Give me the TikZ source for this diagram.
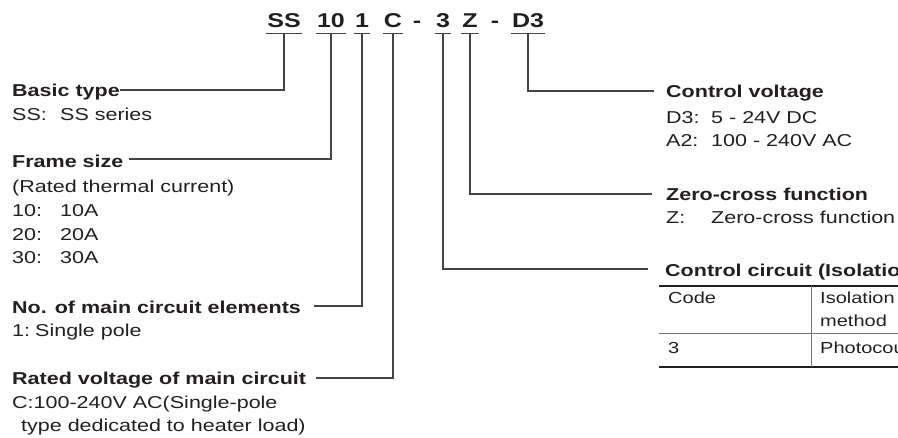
\documentclass[tikz,border=0pt]{standalone}
\usepackage{fontspec}
\setmainfont[FakeStretch=1.25]{Liberation Sans}
\usetikzlibrary{calc}
\definecolor{ink}{HTML}{231F20}
\definecolor{wiregray}{HTML}{444444}
\newcommand\bodyfont{\fontsize{17.2}{23.7}\selectfont}
\newcommand\codefont{\fontsize{20}{24}\selectfont\bfseries}
\newcommand\tabfont{\fontsize{16}{20}\selectfont}
\newcommand\keyL[2]{\makebox[48pt][l]{#1}#2}
\newcommand\keyR[2]{\makebox[45pt][l]{#1}#2}
\tikzset{
  code/.style={font=\codefont, text=ink, anchor=base, inner xsep=1pt, inner ysep=0pt, text depth=6.5pt},
  sepmark/.style={font=\codefont, text=ink, anchor=base, inner sep=0pt},
  head/.style={font=\bodyfont\bfseries, text=ink, anchor=base west, inner sep=0pt},
  body/.style={font=\bodyfont, text=ink, anchor=base west, inner sep=0pt},
  cell/.style={font=\tabfont, text=ink, anchor=base west, inner sep=0pt},
  wire/.style={draw=wiregray, line width=1.1pt},
  thickrule/.style={draw=ink, line width=2pt},
  thinrule/.style={draw=black!55, line width=1pt},
}
\begin{document}
\begin{tikzpicture}[x=1pt,y=-1pt]
	\useasboundingbox (0,0) rectangle (898,437);
	\clip (0,0) rectangle (898,437);
	
	% model code
	\node[code] (ss) at (284,27) {SS};
	\node[code] (fr) at (331,27) {10};
	\node[code] (el) at (362,27) {1};
	\node[code] (rv) at (393,27) {C};
	\node[sepmark] (sepA) at (417,27) {-};
	\node[code] (ci) at (443,27) {3};
	\node[code] (zc) at (470,27) {Z};
	\node[sepmark] (sepB) at (495,27) {-};
	\node[code] (cv) at (528,27) {D3};
	\foreach \n in {ss,fr,el,rv,ci,zc,cv}
		\draw[wire] (\n.south west) -- (\n.south east);
	
	% left side
	\node[head] (basic) at (12,96) {Basic type};
	\node[body] (basicA) at (12,120) {\keyL{SS:}{SS series}};
	
	\node[head] (frame) at (12,167) {Frame size};
	\node[body] (frameA) at (12,192) {(Rated thermal current)};
	\node[body] (frameB) at (12,216) {\keyL{10:}{10A}};
	\node[body] (frameC) at (12,240) {\keyL{20:}{20A}};
	\node[body] (frameD) at (12,263) {\keyL{30:}{30A}};
	
	\node[head] (elem) at (12,313) {No. of main circuit elements};
	\node[body] (elemA) at (12,336) {\makebox[23pt][l]{1:}Single pole};
	
	\node[head] (rated) at (12,384) {Rated voltage of main circuit};
	\node[body] (ratedA) at (12,408) {C:100-240V AC(Single-pole};
	\node[body] (ratedB) at (21,431) {type dedicated to heater load)};
	
	% right side
	\node[head] (volt) at (666,97) {Control voltage};
	\node[body] (voltA) at (666,123) {\keyR{D3:}{5 - 24V DC}};
	\node[body] (voltB) at (666,146) {\keyR{A2:}{100 - 240V AC}};
	
	\node[head] (zero) at (666,200) {Zero-cross function};
	\node[body] (zeroA) at (666,223) {\keyR{Z:}{Zero-cross function}};
	
	\node[head] (iso) at (665,276) {Control circuit (Isolation method)};
	
	% connectors
	\draw[wire] (ss.south) |- ($(basic.base east)+(0,-6)$);
	\draw[wire] (fr.south) |- ($(frame.base east)+(5,-8)$);
	\draw[wire] (el.south) |- ($(elem.base east)+(13,-7)$);
	\draw[wire] (rv.south) |- ($(rated.base east)+(10,-6)$);
	\draw[wire] (cv.south) |- ($(volt.base west)+(-12,-6)$);
	\draw[wire] (zc.south) |- ($(zero.base west)+(-14,-6)$);
	\draw[wire] (ci.south) |- ($(iso.base west)+(-17,-7)$);
	
	% isolation table
	\draw[thickrule] (659,286) -- (900,286);
	\draw[thinrule] (659,333) -- (900,333);
	\draw[thickrule] (659,367) -- (900,367);
	\draw[thinrule] (811,286) -- (811,367);
	\node[cell] (codeH) at (668,303) {Code};
	\node[cell] (methH) at (820,303) {Isolation};
	\node[cell] (methHb) at (820,326) {method};
	\node[cell] (codeA) at (668,353) {3};
	\node[cell] (methA) at (820,353) {Photocoupler};
\end{tikzpicture}
\end{document}
